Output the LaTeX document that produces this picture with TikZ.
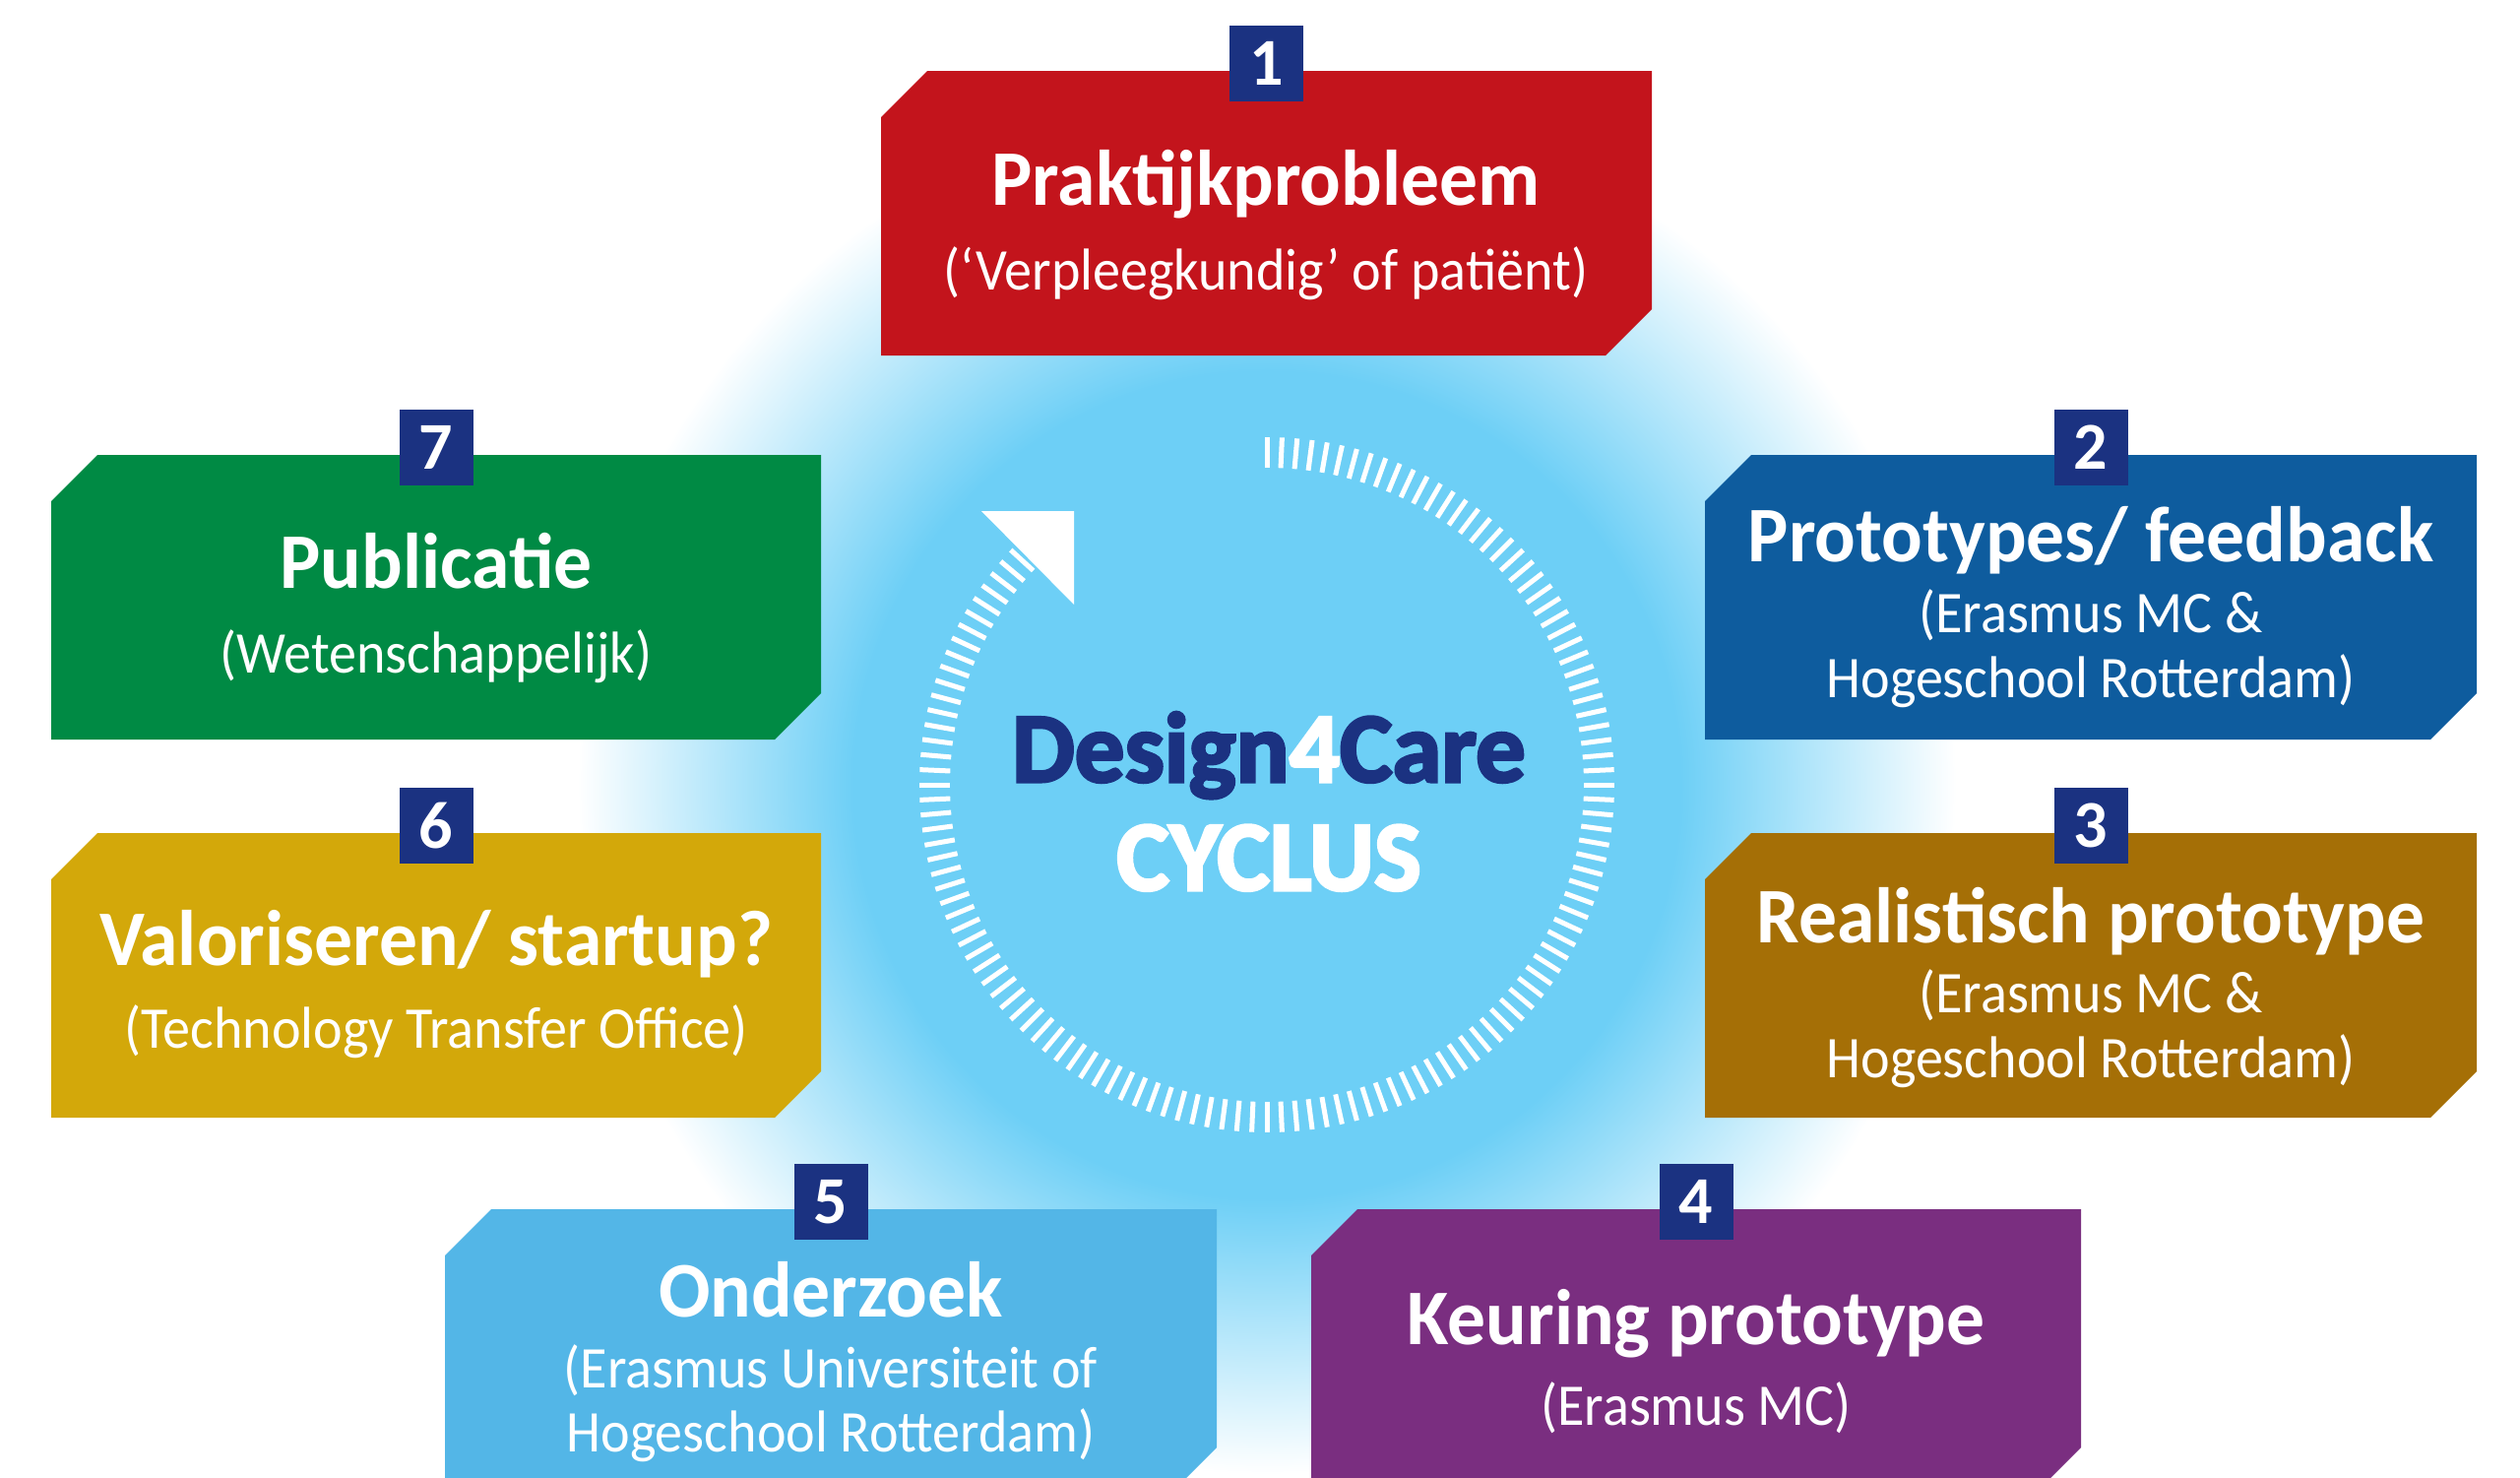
\documentclass[tikz,border=0pt]{standalone}
\usepackage{fontspec}
\setmainfont{Carlito}
\newfontfamily\titlefont{Carlito}[FakeStretch=0.97]
\newfontfamily\subfont{Carlito}[FakeStretch=0.935]
\newfontfamily\heavyfont{Carlito}[BoldFeatures={FakeBold=3}]
\definecolor{cred}{HTML}{C3141C}
\definecolor{cblue}{HTML}{0E5C9E}
\definecolor{cbrown}{HTML}{A56F06}
\definecolor{cpurple}{HTML}{7A2E80}
\definecolor{clight}{HTML}{53B6E7}
\definecolor{cgold}{HTML}{D3A80A}
\definecolor{cgreen}{HTML}{008A44}
\definecolor{navy}{HTML}{1B3281}
\definecolor{glowc}{HTML}{6DCFF6}
\pgfdeclareradialshading{glowshade}{\pgfpointorigin}{color(0bp)=(glowc); color(7.5bp)=(glowc); color(12.5bp)=(white); color(50bp)=(white)}
% #1 name, #2 x1, #3 y1, #4 x2, #5 y2, #6 colour, #7 number
\newcommand\cyclebox[7]{%
  \fill[#6] (#2,#3+47) -- (#2+47,#3) -- (#4,#3) -- (#4,#5-47) -- (#4-47,#5) -- (#2,#5) -- cycle;
  \node[numsq] (#1) at ({(#2+#4)/2},#3-7.5) {#7};
}
\begin{document}
\begin{tikzpicture}[x=1pt,y=-1pt,
  boxtitle/.style={text=white, font=\titlefont\bfseries\fontsize{80}{88}\selectfont, inner sep=0pt, anchor=base},
  boxsub/.style={text=white, font=\subfont\fontsize{60}{66}\selectfont, inner sep=0pt, anchor=base},
  numsq/.style={fill=navy, text=white, minimum width=75pt, minimum height=77pt, inner sep=0pt, font=\bfseries\fontsize{68}{70}\selectfont},
  ringtick/.style={white, line width=5pt},
  bigtext/.style={font=\heavyfont\bfseries\fontsize{101}{110}\selectfont, inner sep=0pt, anchor=base}]
\useasboundingbox (0,0) rectangle (2560,1500);
\begin{scope}
\clip (0,0) rectangle (2560,1500);
\fill[white] (0,0) rectangle (2560,1500);
\shade[shading=glowshade] (1287,797) circle (1400);
% ring of ticks
\foreach \a in {90,87.5,...,-225}
  \draw[ringtick] ({1287+322*cos(\a)},{797-322*sin(\a)}) -- ({1287+353*cos(\a)},{797-353*sin(\a)});
% arrow head
\coordinate (arrowtip) at (1091,519);
\fill[white] (997,519) -- (arrowtip) -- (1091,614) -- cycle;
% centre text
\node[bigtext] (brand) at (1289,794) {\textcolor{navy}{Design}\textcolor{white}{4}\textcolor{navy}{Care}};
\node[bigtext, text=white] (cyclus) at (1289,904) {CYCLUS};
% boxes
\cyclebox{n1}{895}{72}{1678}{361}{cred}{1}
\cyclebox{n7}{52}{462}{834}{751}{cgreen}{7}
\cyclebox{n6}{52}{846}{834}{1135}{cgold}{6}
\cyclebox{n2}{1732}{462}{2516}{751}{cblue}{2}
\cyclebox{n3}{1732}{846}{2516}{1135}{cbrown}{3}
\cyclebox{n5}{452}{1228}{1236}{1517}{clight}{5}
\cyclebox{n4}{1332}{1228}{2114}{1517}{cpurple}{4}
% texts
\node[boxtitle] (t1) at (1286,208) {Praktijkprobleem};
\node[boxsub] (s1) at (1286,294) {(‘Verpleegkundig’ of patiënt)};
\node[boxtitle] (t7) at (443,597) {Publicatie};
\node[boxsub] (s7) at (443,683) {(Wetenschappelijk)};
\node[boxtitle] (t6) at (443,980) {Valoriseren/ startup?};
\node[boxsub] (s6) at (443,1064) {(Technology Transfer Office)};
\node[boxtitle] (t2) at (2124,570) {Prototypes/ feedback};
\node[boxsub] (s2a) at (2124,642) {(Erasmus MC \&};
\node[boxsub] (s2b) at (2124,708) {Hogeschool Rotterdam)};
\node[boxtitle] (t3) at (2124,957) {Realistisch prototype};
\node[boxsub] (s3a) at (2124,1028) {(Erasmus MC \&};
\node[boxsub] (s3b) at (2124,1094) {Hogeschool Rotterdam)};
\node[boxtitle] (t5) at (844,1337) {Onderzoek};
\node[boxsub] (s5a) at (844,1409) {(Erasmus Universiteit of};
\node[boxsub] (s5b) at (844,1474) {Hogeschool Rotterdam)};
\node[boxtitle] (t4) at (1723,1365) {Keuring prototype};
\node[boxsub] (s4) at (1723,1447) {(Erasmus MC)};
\end{scope}
\end{tikzpicture}
\end{document}
